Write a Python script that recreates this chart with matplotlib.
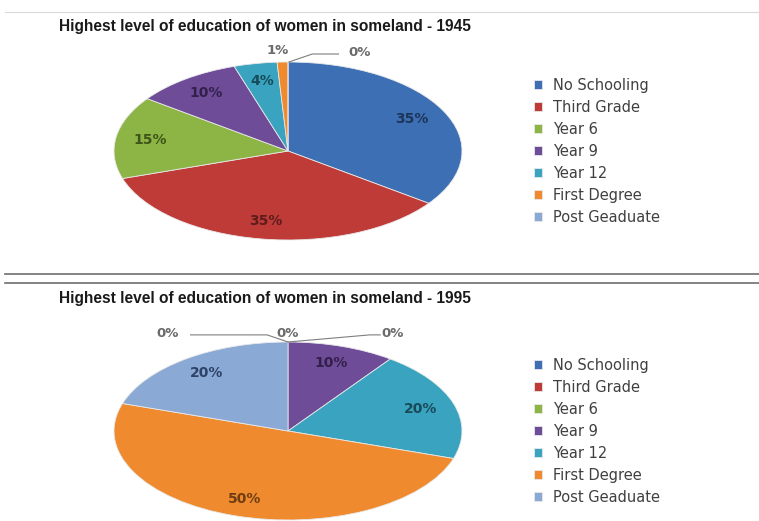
import matplotlib.pyplot as plt
import numpy as np

# data
categories = ['No Schooling', 'Third Grade', 'Year 6', 'Year 9', 'Year 12',
              'First Degree', 'Post Geaduate']
share_1945 = [35, 35, 15, 10, 4, 1, 0]
share_1995 = [0, 0, 0, 10, 20, 50, 20]
titles = ['Highest level of education of women in someland - 1945',
          'Highest level of education of women in someland - 1995']

colors = ['#3D6FB5', '#BE3B38', '#8DB545', '#6F4C98', '#3AA3BF', '#F08A2F', '#8BA9D5']
text_colors = ['#1E3558', '#5E1C1B', '#3F5418', '#33204A', '#184B59', '#6E3E12', '#2C4366']

W, H = 759, 521
fig = plt.figure(figsize=(W / 100, H / 100), dpi=100)


def px_axes(x0, y0, x1, y1):
    return fig.add_axes([x0 / W, 1 - y1 / H, (x1 - x0) / W, (y1 - y0) / H])


def draw_pie(values, top, outside):
    # pie is squashed into an ellipse like the tilted excel pie
    ax = px_axes(114, top, 462, top + 178)
    wedges, _ = ax.pie(values, colors=colors, startangle=90, counterclock=False,
                       radius=1, wedgeprops=dict(linewidth=0.6, edgecolor='#E8E8E8'))
    ax.set_aspect('auto')
    ax.set_xlim(-1, 1)
    ax.set_ylim(-1, 1)
    ax.axis('off')
    for i, w in enumerate(wedges):
        mid = np.deg2rad((w.theta1 + w.theta2) / 2)
        x, y = np.cos(mid), np.sin(mid)
        if i in outside:
            tx, ty, line = outside[i]
            if line is not None:
                ax.plot(line[0], line[1], color='#7F7F7F', lw=0.8, clip_on=False)
            ax.text(tx, ty, f'{values[i]}%', ha='center', va='center', fontsize=9.5,
                    fontweight='bold', color='#6B6B6B', clip_on=False)
        elif values[i] > 0:
            ax.text(0.8 * x, 0.8 * y, f'{values[i]}%', ha='center', va='center',
                    fontsize=10, fontweight='bold', color=text_colors[i])
    return wedges


# 1945
w1 = draw_pie(share_1945, 62, {
    5: (-0.06, 1.13, None),
    6: (0.41, 1.11, ([0.005, 0.14, 0.29], [1.0, 1.09, 1.09])),
})
# 1995
w2 = draw_pie(share_1995, 342, {
    0: (-0.69, 1.10, ([-0.56, -0.12, 0.0], [1.08, 1.08, 1.0])),
    1: (0.0, 1.10, None),
    2: (0.60, 1.10, ([0.0, 0.47, 0.53], [1.0, 1.08, 1.08])),
})

for wedges, y_top in [(w1, 78), (w2, 358)]:
    fig.legend(wedges, categories, loc='upper left', bbox_to_anchor=(534 / W, 1 - y_top / H),
               frameon=False, fontsize=10.5, handlelength=0.55, handleheight=0.55,
               handletextpad=0.75, labelspacing=0.48, borderpad=0, borderaxespad=0)
    for t in fig.legends[-1].get_texts():
        t.set_color('#404040')

for title, y in zip(titles, [26, 298]):
    fig.text(265 / W, 1 - y / H, title, ha='center', va='center', fontsize=11.2,
             fontweight='bold', color='#1A1A1A', family='Liberation Sans')

# frame lines of the original page
fig.add_artist(plt.Line2D([5 / W, 1], [1 - 12 / H] * 2, color='#D9D9D9', lw=0.8))
fig.add_artist(plt.Line2D([5 / W, 1], [1 - 274 / H] * 2, color='#6E6E6E', lw=1.2))
fig.add_artist(plt.Line2D([5 / W, 1], [1 - 283 / H] * 2, color='#6E6E6E', lw=1.2))

fig.savefig('out.png', dpi=100)
